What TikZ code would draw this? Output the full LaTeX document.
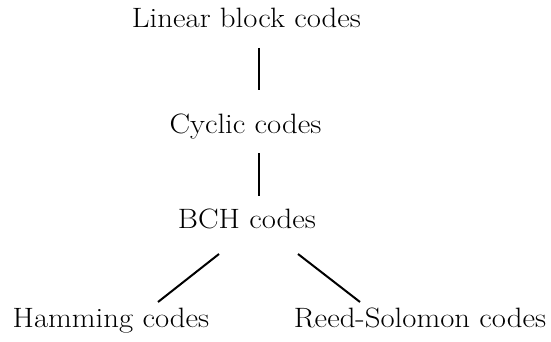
\documentclass[tikz,border=0pt]{standalone}
\usepackage{fontspec}
\setmainfont{Latin Modern Roman}[FakeStretch=1.1]
\begin{document}
\begin{tikzpicture}[x=1pt,y=-1pt,
  lbl/.style={anchor=base,inner sep=0pt,font=\fontsize{28}{32}\selectfont},
  conn/.style={line width=2pt}]
\useasboundingbox (0,0) rectangle (551,342);
\node[lbl] (lin) at (246.5,28) {Linear block codes};
\node[lbl] (cyc) at (245.5,133) {Cyclic codes};
\node[lbl] (bch) at (247,228) {BCH codes};
\node[lbl] (ham) at (111,327) {Hamming codes};
\node[lbl] (rs) at (420,327) {Reed-Solomon codes};
\coordinate (a1) at (258.5,48);
\coordinate (a2) at (258.5,90);
\coordinate (b1) at (258.5,153);
\coordinate (b2) at (258.5,196);
\coordinate (c1) at (219,254);
\coordinate (c2) at (158,302);
\coordinate (d1) at (298,254);
\coordinate (d2) at (360,302);
\draw[conn] (a1) -- (a2);
\draw[conn] (b1) -- (b2);
\draw[conn] (c1) -- (c2);
\draw[conn] (d1) -- (d2);
\end{tikzpicture}
\end{document}
